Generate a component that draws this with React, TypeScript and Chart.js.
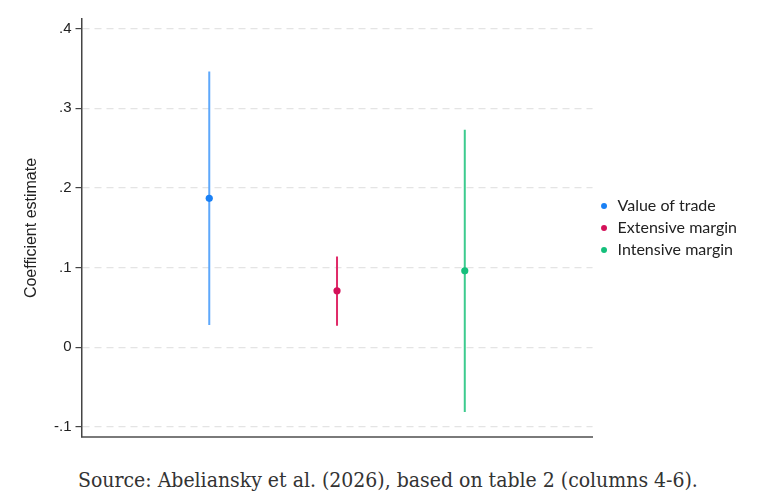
import { useEffect, useRef } from "react";
import { Chart, registerables } from "chart.js";

Chart.register(...registerables);

const seriesLabels = ["Value of trade", "Extensive margin", "Intensive margin"];
const positions = [1, 2, 3];
const estimates = [0.187, 0.071, 0.096];
const lowerCI = [0.028, 0.027, -0.081];
const upperCI = [0.346, 0.114, 0.273];

const dotColors = ["#1a80f5", "#d41159", "#14bf7b"];
const lineColors = ["#5ea8fb", "#e02a68", "#3ccb8e"];

const yTicks = [-0.1, 0, 0.1, 0.2, 0.3, 0.4];
const yTickLabels = ["-.1", "0", ".1", ".2", ".3", ".4"];

export default function App() {
  const canvasRef = useRef<HTMLCanvasElement>(null);
  const chartRef = useRef<Chart | null>(null);

  useEffect(() => {
    const canvas = canvasRef.current;
    if (!canvas) return;

    if (chartRef.current) chartRef.current.destroy();

    const points = seriesLabels.map((label, i) => ({
      type: "scatter" as const,
      label,
      data: [{ x: positions[i], y: estimates[i] }],
      backgroundColor: dotColors[i],
      borderColor: dotColors[i],
      borderWidth: 0,
      pointRadius: 3.6,
      order: 0,
    }));

    const bars = seriesLabels.map((label, i) => ({
      type: "scatter" as const,
      label: `${label} CI`,
      data: [
        { x: positions[i], y: lowerCI[i] },
        { x: positions[i], y: upperCI[i] },
      ],
      showLine: true,
      borderColor: lineColors[i],
      backgroundColor: lineColors[i],
      borderWidth: 2,
      pointRadius: 0,
      order: 1,
    }));

    chartRef.current = new Chart(canvas, {
      type: "scatter",
      data: { datasets: [...points, ...bars] },
      options: {
        animation: false,
        responsive: true,
        maintainAspectRatio: false,
        events: [],
        layout: { padding: { top: 19, bottom: 18, left: 0, right: 20 } },
        plugins: {
          tooltip: { enabled: false },
          legend: {
            position: "right",
            labels: {
              filter: (item) => !item.text.endsWith(" CI"),
              usePointStyle: true,
              pointStyle: "circle",
              boxWidth: 11,
              boxHeight: 4.2,
              padding: 6,
              color: "#222",
              font: { family: "Lato, sans-serif", size: 16 },
            },
          },
        },
        scales: {
          x: {
            type: "linear",
            min: 0,
            max: 4,
            ticks: { display: false },
            grid: { display: false, drawTicks: false },
            border: { display: true, color: "#7a7a7a", width: 2 },
            afterFit(scale) {
              scale.height = 0;
            },
          },
          y: {
            type: "linear",
            min: -0.1125,
            max: 0.412,
            afterBuildTicks(scale) {
              scale.ticks = yTicks.map((v) => ({ value: v }));
            },
            afterFit(scale) {
              scale.width = 81.5;
            },
            ticks: {
              color: "#222",
              padding: 4,
              font: { family: "'Liberation Sans', Arial, sans-serif", size: 15 },
              callback(_val, idx) {
                return yTickLabels[idx];
              },
            },
            grid: {
              color: "#e4e4e4",
              lineWidth: 1.2,
              tickColor: "#444",
              tickLength: 6,
            },
            border: { display: true, color: "#444", width: 1.5, dash: [7, 5] },
            title: {
              display: true,
              text: "Coefficient estimate",
              color: "#222",
              padding: { top: 22, bottom: 0 },
              font: { family: "'Liberation Sans', Arial, sans-serif", size: 16 },
            },
          },
        },
      },
    });

    return () => {
      chartRef.current?.destroy();
      chartRef.current = null;
    };
  }, []);

  return (
    <div
      style={{
        position: "absolute",
        left: 0,
        top: 0,
        width: 767,
        height: 501,
        background: "#fff",
      }}
    >
      <div style={{ position: "relative", width: 767, height: 455 }}>
        <canvas
          ref={canvasRef}
          role="img"
          aria-label="Coefficient estimates with confidence intervals for value of trade, extensive margin and intensive margin"
        />
      </div>
      <div
        style={{
          position: "absolute",
          left: 78,
          top: 468,
          fontFamily: "'DejaVu Serif', serif",
          fontStretch: "condensed",
          fontSize: 21,
          color: "#333",
          whiteSpace: "nowrap",
        }}
      >
        Source: Abeliansky et al. (2026), based on table 2 (columns 4-6).
      </div>
    </div>
  );
}
